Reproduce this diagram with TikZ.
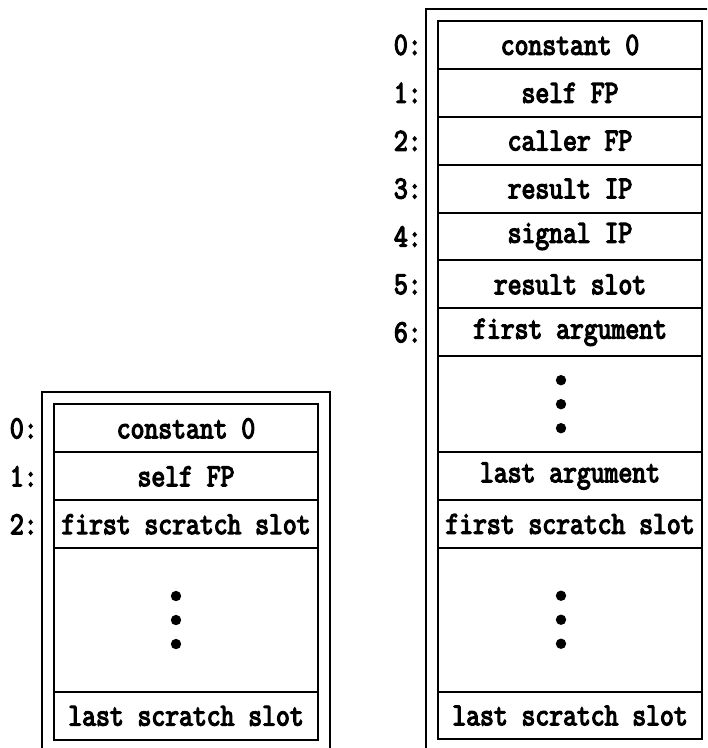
\documentclass[tikz,border=0pt]{standalone}
\usepackage{fontspec}
\newfontfamily\slotfont[FakeStretch=0.84,FakeBold=4]{Latin Modern Mono}
\usetikzlibrary{positioning,fit}

\begin{document}
\begin{tikzpicture}[x=0.5pt, y=0.5pt,
	slot/.style = {draw, line width=1pt, outer sep=0pt, inner sep=0pt, minimum width=132pt, minimum height=23.95pt, font=\slotfont\fontsize{16}{18}\selectfont},
	dotrow/.style = {slot, minimum height=#1},
	idx/.style = {inner sep=0pt, font=\slotfont\fontsize{16}{18}\selectfont},
	frame/.style = {draw, line width=1pt, inner sep=6pt},
	dot/.style = {fill=black}]
	\useasboundingbox (0,0) rectangle (707,748);
	\clip (0,0) rectangle (707,748);

	%% Small frame (left)
	\node[slot, anchor=north west] (l0) at (54,343.5) {constant 0};
	\node[slot][below=0pt of l0] (l1) {self FP};
	\node[slot][below=0pt of l1] (lfs) {first scratch slot};
	\node[dotrow=71.85pt][below=0pt of lfs] (ld) {};
	\node[slot][below=0pt of ld] (lls) {last scratch slot};

	\node[idx][left=8pt of l0] (ln0) {0:};
	\node[idx][left=8pt of l1] (ln1) {1:};
	\node[idx][left=8pt of lfs] (ln2) {2:};

	\node[frame, fit=(l0)(lls)] (lframe) {};

	%% Big frame (right)
	\node[slot, anchor=north west] (r0) at (438,727) {constant 0};
	\node[slot][below=0pt of r0] (r1) {self FP};
	\node[slot][below=0pt of r1] (r2) {caller FP};
	\node[slot][below=0pt of r2] (r3) {result IP};
	\node[slot][below=0pt of r3] (r4) {signal IP};
	\node[slot][below=0pt of r4] (r5) {result slot};
	\node[slot][below=0pt of r5] (r6) {first argument};
	\node[dotrow=47.9pt][below=0pt of r6] (rda) {};
	\node[slot][below=0pt of rda] (rla) {last argument};
	\node[slot][below=0pt of rla] (rfs) {first scratch slot};
	\node[dotrow=71.85pt][below=0pt of rfs] (rds) {};
	\node[slot][below=0pt of rds] (rls) {last scratch slot};

	\node[idx][left=8pt of r0] (rn0) {0:};
	\node[idx][left=8pt of r1] (rn1) {1:};
	\node[idx][left=8pt of r2] (rn2) {2:};
	\node[idx][left=8pt of r3] (rn3) {3:};
	\node[idx][left=8pt of r4] (rn4) {4:};
	\node[idx][left=8pt of r5] (rn5) {5:};
	\node[idx][left=8pt of r6] (rn6) {6:};

	\node[frame, fit=(r0)(rls)] (rframe) {};

	%% Dots
	\fill[dot] ([xshift=-5pt, yshift=12pt]ld.center) circle (2.6pt);
	\fill[dot] ([xshift=-5pt]ld.center) circle (2.6pt);
	\fill[dot] ([xshift=-5pt, yshift=-12pt]ld.center) circle (2.6pt);

	\fill[dot] ([xshift=-4.5pt, yshift=12pt]rda.center) circle (2.6pt);
	\fill[dot] ([xshift=-4.5pt]rda.center) circle (2.6pt);
	\fill[dot] ([xshift=-4.5pt, yshift=-12pt]rda.center) circle (2.6pt);

	\fill[dot] ([xshift=-4.5pt, yshift=12pt]rds.center) circle (2.6pt);
	\fill[dot] ([xshift=-4.5pt]rds.center) circle (2.6pt);
	\fill[dot] ([xshift=-4.5pt, yshift=-12pt]rds.center) circle (2.6pt);
\end{tikzpicture}
\end{document}
